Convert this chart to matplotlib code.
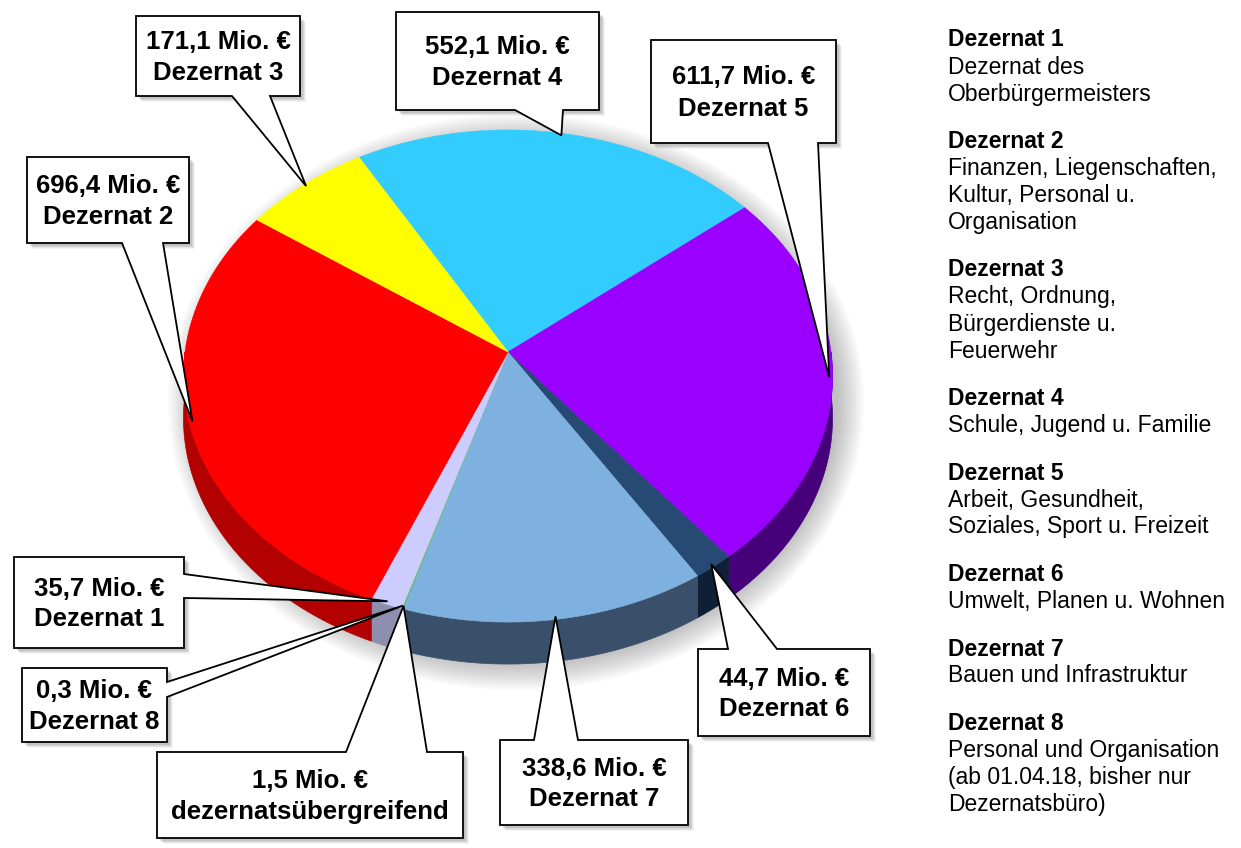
import numpy as np
import matplotlib
matplotlib.use('Agg')
import matplotlib.pyplot as plt
from matplotlib.patches import Polygon, Ellipse

# --- data (clockwise from the top, start angle 120 deg) ---
labels = ['Dezernat 4', 'Dezernat 5', 'Dezernat 6', 'Dezernat 7',
          'dezernatsübergreifend', 'Dezernat 8', 'Dezernat 1', 'Dezernat 2', 'Dezernat 3']
values = [552.1, 611.7, 44.7, 338.6, 1.5, 0.3, 35.7, 696.4, 171.1]

top_colors = ['#33CCFF', '#9900FF', '#264A73', '#7FB1E0', '#66BB66',
              '#99CC99', '#CCCCFF', '#FF0000', '#FFFF00']
side_colors = ['#1E7A99', '#45007A', '#0F1F36', '#3A506A', '#3F8A3F',
               '#6A8A6A', '#8E8EAE', '#B30000', '#B3B300']

legend_heads = ['Dezernat 1', 'Dezernat 2', 'Dezernat 3', 'Dezernat 4',
                'Dezernat 5', 'Dezernat 6', 'Dezernat 7', 'Dezernat 8']
legend_texts = [
    ['Dezernat des', 'Oberbürgermeisters'],
    ['Finanzen, Liegenschaften,', 'Kultur, Personal u.', 'Organisation'],
    ['Recht, Ordnung,', 'Bürgerdienste u.', 'Feuerwehr'],
    ['Schule, Jugend u. Familie'],
    ['Arbeit, Gesundheit,', 'Soziales, Sport u. Freizeit'],
    ['Umwelt, Planen u. Wohnen'],
    ['Bauen und Infrastruktur'],
    ['Personal und Organisation', '(ab 01.04.18, bisher nur', 'Dezernatsbüro)'],
]

# callout boxes: x0, y0, x1, y1, edge with the pointer, pointer base a, b
callouts = {
    'Dezernat 3': (136, 16, 300, 96, 'bottom', 232, 270),
    'Dezernat 4': (396, 12, 599, 110, 'bottom', 515, 563),
    'Dezernat 5': (651, 40, 836, 143, 'bottom', 768, 818),
    'Dezernat 2': (27, 157, 189, 243, 'bottom', 122, 163),
    'Dezernat 1': (14, 557, 184, 648, 'right', 574, 598),
    'Dezernat 8': (22, 668, 167, 742, 'right', 682, 697),
    'dezernatsübergreifend': (157, 752, 463, 838, 'top', 346, 427),
    'Dezernat 7': (500, 740, 688, 825, 'top', 534, 578),
    'Dezernat 6': (698, 649, 870, 736, 'top', 728, 777),
}

plt.rcParams['font.family'] = ['Liberation Sans', 'DejaVu Sans']

W, H = 1241, 848
fig = plt.figure(figsize=(W / 100, H / 100), dpi=100)
ax = fig.add_axes([0, 0, 1, 1])
ax.set_xlim(0, W)
ax.set_ylim(H, 0)
ax.axis('off')

# perspective disc
CX, CY = 508, 352
A, B, K = 323, 243.7, 0.0976
DEPTH = 42


def proj(theta, r=1.0, drop=0.0):
    t = np.radians(theta)
    u, v = r * np.cos(t), r * np.sin(t)
    den = 1 + K * v
    return CX + A * u / den, CY - B * v / den + drop


total = sum(values)
spans = [v / total * 360 for v in values]
starts = 120 - np.concatenate([[0], np.cumsum(spans)[:-1]])
ends = starts - np.array(spans)

# soft shadow
for i in range(14):
    ax.add_patch(Ellipse((516, 402), 2 * (322 + 2 * i), 2 * (262 + 2 * i),
                         color='#606060', alpha=0.03, lw=0, zorder=1))

# side walls (front half: angles between -180 and 0)
for th1, th2, c in zip(starts, ends, side_colors):
    a = min(th1, 0)
    b = max(th2, -180)
    if a <= b:
        continue
    t = np.linspace(a, b, 60)
    xt, yt = proj(t)
    xb, yb = proj(t[::-1], drop=DEPTH)
    pts = np.column_stack([np.concatenate([xt, xb]), np.concatenate([yt, yb])])
    ax.add_patch(Polygon(pts, closed=True, fc=c, ec=c, lw=0.5, zorder=2))

# top surface
for th1, th2, c in zip(starts, ends, top_colors):
    n = max(3, int(abs(th1 - th2) * 2))
    t = np.linspace(th1, th2, n)
    x, y = proj(t)
    pts = np.column_stack([np.concatenate([[CX], x]), np.concatenate([[CY], y])])
    ax.add_patch(Polygon(pts, closed=True, fc=c, ec=c, lw=0.4, zorder=3))


def fmt(v):
    return f'{v:.1f}'.replace('.', ',') + ' Mio. €'


# callouts
for lab, val, th1, th2 in zip(labels, values, starts, ends):
    x0, y0, x1, y1, edge, pa, pb = callouts[lab]
    tx, ty = proj((th1 + th2) / 2, r=0.99)
    if edge == 'bottom':
        pts = [(x0, y0), (x1, y0), (x1, y1), (pb, y1), (tx, ty), (pa, y1), (x0, y1)]
    elif edge == 'top':
        pts = [(x0, y0), (pa, y0), (tx, ty), (pb, y0), (x1, y0), (x1, y1), (x0, y1)]
    else:
        pts = [(x0, y0), (x1, y0), (x1, pa), (tx, ty), (x1, pb), (x1, y1), (x0, y1)]
    box = [(x0, y0), (x1, y0), (x1, y1), (x0, y1)]
    for off, al in [(6, 0.08), (5, 0.12), (4, 0.16), (3, 0.2)]:
        ax.add_patch(Polygon([(px + off, py + off) for px, py in box], closed=True,
                             fc='#7F7F7F', ec='none', alpha=al, zorder=4))
    ax.add_patch(Polygon(pts, closed=True, fc='white', ec='black', lw=1.3,
                         joinstyle='miter', zorder=5))
    xm, ym = (x0 + x1) / 2, (y0 + y1) / 2
    ax.text(xm, ym - 14, fmt(val), ha='center', va='center', fontsize=18.5,
            fontweight='bold', zorder=6)
    ax.text(xm, ym + 17, lab, ha='center', va='center', fontsize=18.5,
            fontweight='bold', zorder=6)

# legend text on the right
LX, y = 948, 40
PITCH, GAP = 27, 47.5
for head, lines in zip(legend_heads, legend_texts):
    ax.text(LX, y, head, ha='left', va='center', fontsize=16.5, fontweight='bold')
    for ln in lines:
        y += PITCH
        ax.text(LX, y, ln, ha='left', va='center', fontsize=16.5)
    y += GAP

fig.savefig('out.png', dpi=100)
